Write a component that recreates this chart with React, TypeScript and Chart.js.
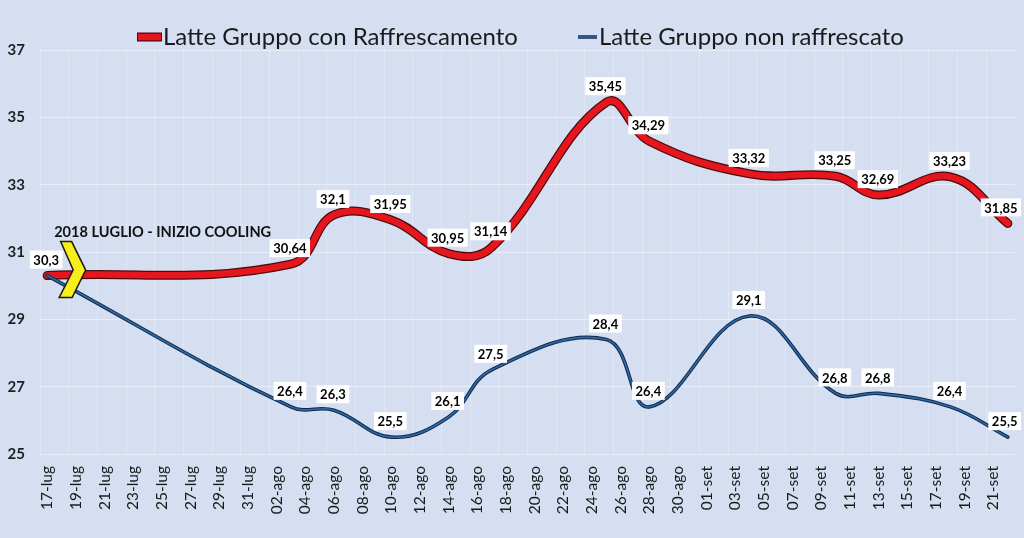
import React, { useEffect, useRef } from 'react';
import { Chart, registerables } from 'chart.js';

Chart.register(...registerables);

// Daily category axis (17 July – 22 September)
const days: string[] = [
  '17-lug', '18-lug', '19-lug', '20-lug', '21-lug', '22-lug', '23-lug', '24-lug', '25-lug', '26-lug',
  '27-lug', '28-lug', '29-lug', '30-lug', '31-lug',
  '01-ago', '02-ago', '03-ago', '04-ago', '05-ago', '06-ago', '07-ago', '08-ago', '09-ago', '10-ago',
  '11-ago', '12-ago', '13-ago', '14-ago', '15-ago', '16-ago', '17-ago', '18-ago', '19-ago', '20-ago',
  '21-ago', '22-ago', '23-ago', '24-ago', '25-ago', '26-ago', '27-ago', '28-ago', '29-ago', '30-ago',
  '31-ago',
  '01-set', '02-set', '03-set', '04-set', '05-set', '06-set', '07-set', '08-set', '09-set', '10-set',
  '11-set', '12-set', '13-set', '14-set', '15-set', '16-set', '17-set', '18-set', '19-set', '20-set',
  '21-set', '22-set',
];

const sampleDates: string[] = [
  '17-lug', '03-ago', '06-ago', '10-ago', '14-ago', '17-ago', '25-ago', '28-ago',
  '04-set', '10-set', '13-set', '18-set', '22-set',
];

const cooledValues: number[] = [30.3, 30.64, 32.1, 31.95, 30.95, 31.14, 35.45, 34.29, 33.32, 33.25, 32.69, 33.23, 31.85];
const uncooledValues: number[] = [30.3, 26.4, 26.3, 25.5, 26.1, 27.5, 28.4, 26.4, 29.1, 26.8, 26.8, 26.4, 25.5];

const cooledShowLabel: boolean[] = [true, true, true, true, true, true, true, true, true, true, true, true, true];
const uncooledShowLabel: boolean[] = [false, true, true, true, true, true, true, true, true, true, true, true, true];

const seriesNames: string[] = ['Latte Gruppo con Raffrescamento', 'Latte Gruppo non raffrescato'];
const annotationText = '2018 LUGLIO - INIZIO COOLING';

const yMin = 25;
const yMax = 37;
const yStep = 2;

const BG = '#d5dff1';
const RED = '#e5161d';
const RED_EDGE = '#4d0b0b';
const BLUE = '#2f6aa6';
const BLUE_EDGE = '#10294a';

const fmt = (v: number) => String(v).replace('.', ',');

const toPoints = (vals: number[]) => sampleDates.map((d, i) => ({ x: d, y: vals[i] }));

const overlayPlugin = {
  id: 'overlay',
  afterDatasetsDraw(chart: any) {
    const ctx = chart.ctx as CanvasRenderingContext2D;
    const xs = chart.scales.x;
    const ys = chart.scales.y;
    const x0 = xs.getPixelForValue(0);
    const y0 = ys.getPixelForValue(cooledValues[0]);

    // Annotation text
    ctx.save();
    ctx.font = 'bold 16px Lato';
    ctx.fillStyle = '#111111';
    ctx.textAlign = 'left';
    ctx.textBaseline = 'alphabetic';
    ctx.fillText(annotationText, x0 + 7, ys.getPixelForValue(31) - 15, 217);

    // Yellow chevron
    ctx.beginPath();
    ctx.moveTo(x0 + 13.5, y0 - 34);
    ctx.lineTo(x0 + 24.5, y0 - 34);
    ctx.lineTo(x0 + 38.5, y0 - 5.5);
    ctx.lineTo(x0 + 25, y0 + 22);
    ctx.lineTo(x0 + 12, y0 + 22);
    ctx.lineTo(x0 + 26, y0 - 5.5);
    ctx.closePath();
    ctx.fillStyle = '#f7ef1a';
    ctx.fill();
    ctx.lineWidth = 1.5;
    ctx.strokeStyle = '#1a1a1a';
    ctx.stroke();
    ctx.restore();

    // Value labels
    chart.data.datasets.forEach((ds: any, di: number) => {
      if (!ds.labelFlags) return;
      const meta = chart.getDatasetMeta(di);
      meta.data.forEach((pt: any, i: number) => {
        if (!ds.labelFlags[i]) return;
        const text = fmt(ds.values[i]);
        ctx.save();
        ctx.font = 'bold 13px Lato';
        const w = ctx.measureText(text).width + 7;
        const h = 18;
        let left = pt.x - 1 - w / 2;
        if (left + w > chart.width - 3) left = chart.width - 3 - w;
        const top = pt.y - 7 - h;
        ctx.fillStyle = '#ffffff';
        ctx.fillRect(left, top, w, h);
        ctx.fillStyle = '#000000';
        ctx.textAlign = 'center';
        ctx.textBaseline = 'middle';
        ctx.fillText(text, left + w / 2, top + h / 2 + 1);
        ctx.restore();
      });
    });
  },
  afterDraw(chart: any) {
    // Legend
    const ctx = chart.ctx as CanvasRenderingContext2D;
    const cy = 37;
    ctx.save();
    ctx.lineCap = 'butt';
    // red sample
    ctx.beginPath();
    ctx.moveTo(137, cy);
    ctx.lineTo(162, cy);
    ctx.strokeStyle = RED_EDGE;
    ctx.lineWidth = 9;
    ctx.stroke();
    ctx.beginPath();
    ctx.moveTo(138, cy);
    ctx.lineTo(161, cy);
    ctx.strokeStyle = RED;
    ctx.lineWidth = 6.5;
    ctx.stroke();
    // blue sample
    ctx.beginPath();
    ctx.moveTo(578, cy);
    ctx.lineTo(597, cy);
    ctx.strokeStyle = BLUE_EDGE;
    ctx.lineWidth = 3.5;
    ctx.stroke();
    ctx.beginPath();
    ctx.moveTo(578, cy);
    ctx.lineTo(597, cy);
    ctx.strokeStyle = BLUE;
    ctx.lineWidth = 1.5;
    ctx.stroke();

    ctx.font = '24px Lato';
    ctx.fillStyle = '#1b1b1b';
    ctx.textAlign = 'left';
    ctx.textBaseline = 'middle';
    ctx.fillText(seriesNames[0], 163, cy, 363);
    ctx.fillText(seriesNames[1], 599, cy, 312);
    ctx.restore();
  },
};

export default function App() {
  const canvasRef = useRef<HTMLCanvasElement | null>(null);

  useEffect(() => {
    if (!canvasRef.current) return;
    const chart = new Chart(canvasRef.current, {
      type: 'line',
      data: {
        labels: days,
        datasets: [
          {
            label: seriesNames[1],
            data: toPoints(uncooledValues),
            values: uncooledValues,
            labelFlags: uncooledShowLabel,
            borderColor: BLUE,
            borderWidth: 1.6,
            tension: 0.4,
            pointRadius: 0,
            borderCapStyle: 'round',
            borderJoinStyle: 'round',
          } as any,
          {
            label: seriesNames[1] + ' (bordo)',
            data: toPoints(uncooledValues),
            borderColor: BLUE_EDGE,
            borderWidth: 3.6,
            tension: 0.4,
            pointRadius: 0,
            borderCapStyle: 'round',
            borderJoinStyle: 'round',
          } as any,
          {
            label: seriesNames[0],
            data: toPoints(cooledValues),
            values: cooledValues,
            labelFlags: cooledShowLabel,
            borderColor: RED,
            borderWidth: 6.5,
            tension: 0.4,
            pointRadius: 0,
            borderCapStyle: 'round',
            borderJoinStyle: 'round',
          } as any,
          {
            label: seriesNames[0] + ' (bordo)',
            data: toPoints(cooledValues),
            borderColor: RED_EDGE,
            borderWidth: 9,
            tension: 0.4,
            pointRadius: 0,
            borderCapStyle: 'round',
            borderJoinStyle: 'round',
          } as any,
        ],
      },
      options: {
        responsive: false,
        animation: false,
        layout: { padding: { top: 50, right: 9, left: 0, bottom: 0 } },
        plugins: {
          legend: { display: false },
          tooltip: { enabled: false },
        },
        scales: {
          x: {
            type: 'category',
            offset: true,
            border: { display: false },
            grid: {
              offset: true,
              drawTicks: false,
              color: (c: any) => (c.index % 2 === 0 ? 'rgba(255,255,255,0.28)' : 'rgba(0,0,0,0)'),
            },
            ticks: {
              autoSkip: false,
              maxRotation: 90,
              minRotation: 90,
              padding: 12,
              color: '#1a1a1a',
              font: { family: 'Lato', size: 15.5 },
              callback: (_v: any, i: number) => (i % 2 === 0 ? days[i] : ''),
            },
            afterFit: (s: any) => {
              s.height = 84;
              s.paddingLeft = 0;
              s.paddingRight = 0;
            },
          },
          y: {
            min: yMin,
            max: yMax,
            border: { display: false },
            grid: { color: 'rgba(255,255,255,0.45)', drawTicks: false },
            ticks: {
              stepSize: yStep,
              padding: 15,
              color: '#1f1f1f',
              font: { family: 'Lato', size: 15, weight: 'bold' },
            },
            afterFit: (s: any) => {
              s.width = 40;
              s.paddingTop = 0;
              s.paddingBottom = 0;
            },
          },
        },
      },
      plugins: [overlayPlugin],
    } as any);
    return () => chart.destroy();
  }, []);

  return (
    <div style={{ position: 'fixed', left: 0, top: 0, width: 1024, height: 538, background: BG }}>
      <canvas ref={canvasRef} width={1024} height={538} style={{ display: 'block' }} />
    </div>
  );
}
